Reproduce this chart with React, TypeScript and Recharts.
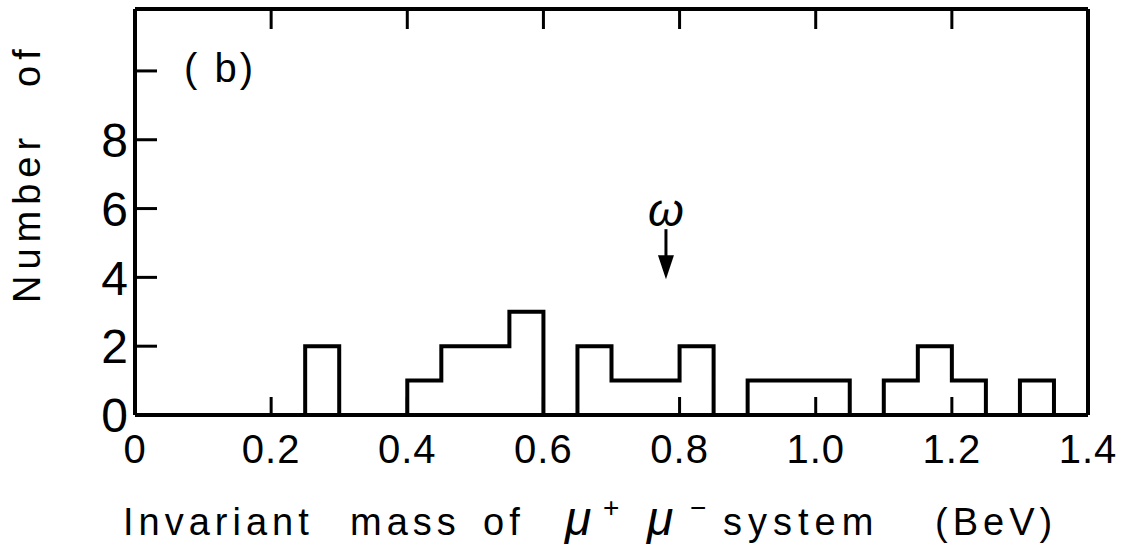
import React from 'react';
import { ComposedChart, Line, XAxis, YAxis, ReferenceDot, Label } from 'recharts';

// Histogram of dimuon invariant mass, 0.05 BeV bins (lower edge -> events)
const binLowEdges = [0.2, 0.25, 0.3, 0.35, 0.4, 0.45, 0.5, 0.55, 0.6, 0.65, 0.7, 0.75, 0.8, 0.85, 0.9, 0.95, 1.0, 1.05, 1.1, 1.15, 1.2, 1.25, 1.3, 1.35];
const eventCounts = [0, 2, 0, 0, 1, 2, 2, 3, 0, 2, 1, 1, 2, 0, 1, 1, 1, 0, 1, 2, 1, 0, 1, 0];

const xTicks = [0, 0.2, 0.4, 0.6, 0.8, 1.0, 1.2, 1.4];
const xTickLabels = ['0', '0.2', '0.4', '0.6', '0.8', '1.0', '1.2', '1.4'];
const yTicks = [0, 2, 4, 6, 8, 10];
const yTickLabels = ['0', '2', '4', '6', '8', ''];
const yMax = 11.8;

// omega marker: position on the mass axis and vertical extent of the arrow
const omegaMass = 0.78;
const omegaArrowTop = 5.4;
const omegaArrowTip = 3.85;
const omegaLabelLevel = 6.1;
const panelTagPos = { m: 0.125, n: 10.1 };

const data = binLowEdges.map((m, i) => ({ m, n: eventCounts[i] }));

const FONT = '"Liberation Sans", "DejaVu Sans", sans-serif';
const INK = '#000';

const BottomTick = (props: any) => {
  const { x, y, payload } = props;
  const idx = xTicks.indexOf(payload.value);
  return (
    <g>
      <line x1={x} y1={y} x2={x} y2={y - 18} stroke={INK} strokeWidth={3} />
      <text x={x} y={y + 48} textAnchor="middle" fontSize={40} fontFamily={FONT} fill={INK} letterSpacing={1}>
        {xTickLabels[idx]}
      </text>
    </g>
  );
};

const TopTick = (props: any) => {
  const { x, y } = props;
  return <line x1={x} y1={y} x2={x} y2={y + 20} stroke={INK} strokeWidth={3} />;
};

const LeftTick = (props: any) => {
  const { x, y, payload } = props;
  const idx = yTicks.indexOf(payload.value);
  return (
    <g>
      <line x1={x} y1={y} x2={x + 22} y2={y} stroke={INK} strokeWidth={3} />
      <text x={x - 7} y={y} dy="0.36em" textAnchor="end" fontSize={48} fontFamily={FONT} fill={INK}>
        {yTickLabels[idx]}
      </text>
    </g>
  );
};

const RightTick = (props: any) => {
  const { x, y } = props;
  return <line x1={x} y1={y} x2={x - 22} y2={y} stroke={INK} strokeWidth={3} />;
};

const XTitle = (props: any) => {
  const { viewBox } = props;
  const x0 = viewBox.x;
  const yb = viewBox.y + 120;
  return (
    <text y={yb} fontSize={38} fontFamily={FONT} fill={INK} letterSpacing={5}>
      <tspan x={x0 - 12}>Invariant</tspan>
      <tspan x={x0 + 215}>mass</tspan>
      <tspan x={x0 + 348}>of</tspan>
      <tspan x={x0 + 430} fontStyle="italic" fontSize={48} letterSpacing={0}>μ</tspan>
      <tspan x={x0 + 468} dy={-18} fontSize={28} letterSpacing={0}>+</tspan>
      <tspan x={x0 + 512} dy={18} fontStyle="italic" fontSize={48} letterSpacing={0}>μ</tspan>
      <tspan x={x0 + 555} dy={-18} fontSize={28} letterSpacing={0}>−</tspan>
      <tspan x={x0 + 588} dy={18} letterSpacing={6}>system</tspan>
      <tspan x={x0 + 800} letterSpacing={5}>(BeV)</tspan>
    </text>
  );
};

const YTitle = (props: any) => {
  const { viewBox } = props;
  const bx = viewBox.x - 35;
  const by = 303;
  return (
    <text
      x={bx}
      y={by}
      transform={`rotate(-90 ${bx} ${by})`}
      fontSize={38}
      fontFamily={FONT}
      fill={INK}
      letterSpacing={6}
    >
      <tspan x={bx}>Number</tspan>
      <tspan x={bx + 216}>of</tspan>
    </text>
  );
};

const OmegaArrow = (props: any) => {
  const { cx, cy, yAxis } = props;
  const scale = yAxis?.scale;
  const yTop = scale ? scale(omegaArrowTop) : cy;
  const yTip = scale ? scale(omegaArrowTip) : cy + 50;
  const yLabel = scale ? scale(omegaLabelLevel) : cy - 20;
  return (
    <g>
      <text x={cx} y={yLabel} dy="0.36em" textAnchor="middle" fontSize={46} fontStyle="italic" fontFamily={FONT} fill={INK}>
        ω
      </text>
      <line x1={cx} y1={yTop} x2={cx} y2={yTip - 18} stroke={INK} strokeWidth={3} />
      <polygon points={`${cx - 8},${yTip - 24} ${cx + 8},${yTip - 24} ${cx},${yTip}`} fill={INK} />
    </g>
  );
};

const PanelTag = (props: any) => {
  const { cx, cy } = props;
  return (
    <text x={cx} y={cy} dy="0.36em" textAnchor="middle" fontSize={40} fontFamily={FONT} fill={INK} letterSpacing={3}>
      ( b)
    </text>
  );
};

export default function App() {
  return (
    <div style={{ position: 'absolute', left: 0, top: 0, background: '#fff' }}>
      <ComposedChart width={1129} height={552} data={data} margin={{ top: 4, right: 31, bottom: 107, left: 75 }}>
        <XAxis
          xAxisId="b"
          dataKey="m"
          type="number"
          domain={[0, 1.4]}
          ticks={xTicks}
          interval={0}
          height={30}
          tickSize={0}
          tickMargin={0}
          tickLine={false}
          tick={BottomTick}
          axisLine={{ stroke: INK, strokeWidth: 4 }}
        >
          <Label content={XTitle} />
        </XAxis>
        <XAxis
          xAxisId="t"
          orientation="top"
          dataKey="m"
          type="number"
          domain={[0, 1.4]}
          ticks={[0.2, 0.4, 0.6, 0.8, 1.0, 1.2]}
          interval={0}
          height={5}
          tickSize={0}
          tickMargin={0}
          tickLine={false}
          tick={TopTick}
          axisLine={{ stroke: INK, strokeWidth: 4 }}
        />
        <YAxis
          yAxisId="l"
          type="number"
          domain={[0, yMax]}
          ticks={yTicks}
          interval={0}
          width={60}
          tickSize={0}
          tickMargin={0}
          tickLine={false}
          tick={LeftTick}
          axisLine={{ stroke: INK, strokeWidth: 4 }}
        >
          <Label content={YTitle} />
        </YAxis>
        <YAxis
          yAxisId="r"
          orientation="right"
          type="number"
          domain={[0, yMax]}
          ticks={[2, 4, 6, 8, 10]}
          interval={0}
          width={10}
          tickSize={0}
          tickMargin={0}
          tickLine={false}
          tick={RightTick}
          axisLine={{ stroke: INK, strokeWidth: 4 }}
        />
        <Line
          xAxisId="b"
          yAxisId="l"
          dataKey="n"
          type="stepAfter"
          stroke={INK}
          strokeWidth={4}
          strokeLinejoin="miter"
          dot={false}
          activeDot={false}
          isAnimationActive={false}
        />
        <ReferenceDot xAxisId="b" yAxisId="l" x={omegaMass} y={omegaArrowTop} r={0} shape={OmegaArrow} />
        <ReferenceDot xAxisId="b" yAxisId="l" x={panelTagPos.m} y={panelTagPos.n} r={0} shape={PanelTag} />
      </ComposedChart>
    </div>
  );
}
